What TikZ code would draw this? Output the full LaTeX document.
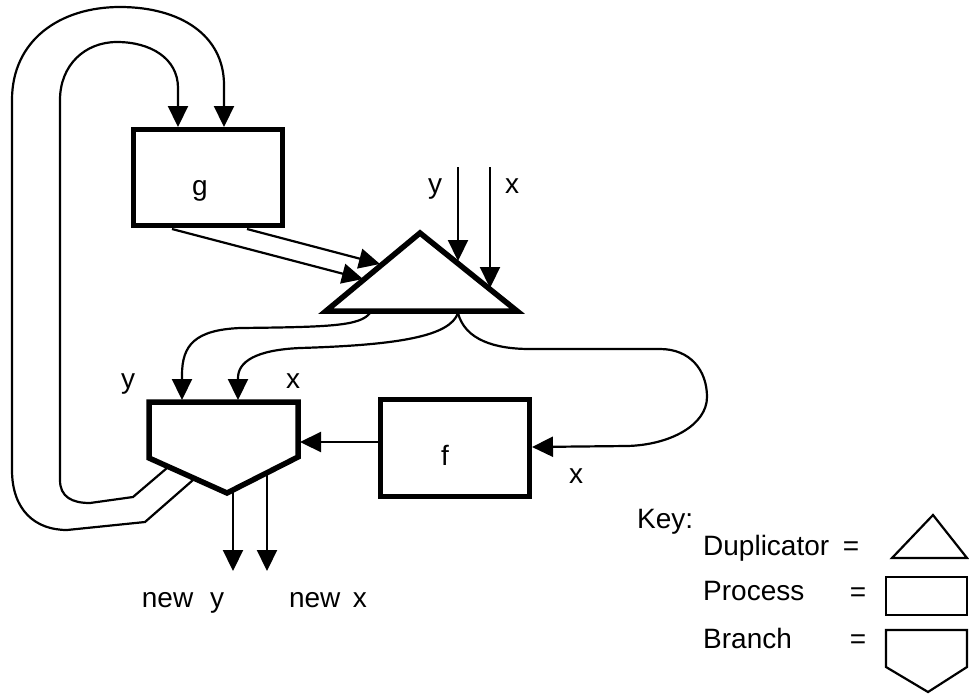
\documentclass[tikz,border=0pt]{standalone}
\usepackage{fontspec}
\setmainfont{Liberation Sans}
\usetikzlibrary{arrows.meta}
\begin{document}
\begin{tikzpicture}[x=1pt,y=-1pt,
  arr/.style={line width=2.2pt,-{Triangle[length=21pt,width=20pt]}},
  heavy/.style={line width=5.5pt,line join=miter},
  procbox/.style={draw,line width=4.8pt,minimum width=149pt,minimum height=96.5pt,inner sep=0pt},
  lbl/.style={inner sep=0pt,anchor=base,font=\fontsize{28}{33}\selectfont},
  lbll/.style={inner sep=0pt,anchor=base west,font=\fontsize{28}{33}\selectfont},
  keyline/.style={line width=2.2pt,line join=miter}]
\useasboundingbox (0,0) rectangle (969,694);

% ---------- shapes ----------
\node[procbox] (g) at (208,177.5) {};
\node[lbl] (gtxt) at (200,195) {g};
\node[procbox] (f) at (455,448) {};
\node[lbl] (ftxt) at (445,465) {f};

% duplicator
\coordinate (dl) at (326,311);
\coordinate (da) at (420,233);
\coordinate (dr) at (517,311);
\draw[heavy] (dl) -- (da) -- (dr) -- cycle;

% branch
\coordinate (b1) at (149,402);
\coordinate (b2) at (298,402);
\coordinate (b3) at (298,457);
\coordinate (b4) at (227,493);
\coordinate (b5) at (149,458);
\draw[heavy] (b1) -- (b2) -- (b3) -- (b4) -- (b5) -- cycle;

% ---------- attachment points ----------
\coordinate (gin1) at (178,127);
\coordinate (gin2) at (224,127);
\coordinate (gout1) at (172,229);
\coordinate (gout2) at (247,229);
\coordinate (din1) at (363,279);
\coordinate (din2) at (380,264);
\coordinate (dyin) at (458,261);
\coordinate (dxin) at (490,288);
\coordinate (ytop) at (458,167);
\coordinate (xtop) at (490,167);
\coordinate (dout1) at (370,313);
\coordinate (dout2) at (458,313);
\coordinate (bin1) at (182,400);
\coordinate (bin2) at (238,400);
\coordinate (bin3) at (300,442);
\coordinate (fout) at (378,442);
\coordinate (fin) at (532,447);
\coordinate (bo1) at (167,468);
\coordinate (bo2) at (193,480);
\coordinate (bo3) at (233,492);
\coordinate (bo4) at (267,474);
\coordinate (ny) at (233,571);
\coordinate (nx) at (267,571);

% ---------- connectors ----------
% feedback loops into g
\draw[arr] (bo2) -- (145,522) -- (67,530) .. controls (35,530) and (12,510) .. (12,470)
  -- (12,100) .. controls (12,40) and (60,7) .. (120,7) .. controls (180,7) and (224,35) .. (224,85) -- (gin2);
\draw[arr] (bo1) -- (133,497) -- (90,503) .. controls (72,503) and (60,497) .. (60,480)
  -- (60,100) .. controls (60,65) and (85,42) .. (117,42) .. controls (150,42) and (178,58) .. (178,88) -- (gin1);

% g to duplicator
\draw[arr] (gout1) -- (din1);
\draw[arr] (gout2) -- (din2);

% external y, x into duplicator
\draw[arr] (ytop) -- (dyin);
\draw[arr] (xtop) -- (dxin);

% duplicator to branch
\draw[arr] (dout1) .. controls (360,326) and (330,327) .. (240,328) .. controls (195,330) and (182,345) .. (182,375) -- (bin1);
\draw[arr] (dout2) .. controls (450,336) and (400,345) .. (300,348) .. controls (255,350) and (238,362) .. (238,378) -- (bin2);

% duplicator to f
\draw[arr] (dout2) .. controls (465,340) and (495,349) .. (530,349) -- (660,349)
  .. controls (690,349) and (707,370) .. (707,397) .. controls (707,425) and (670,445) .. (627,446) -- (fin);

% f to branch
\draw[arr] (fout) -- (bin3);

% branch outputs
\draw[arr] (bo3) -- (ny);
\draw[arr] (bo4) -- (nx);

% ---------- labels ----------
\node[lbl] (ly1) at (128,388) {y};
\node[lbl] (lx1) at (293,388) {x};
\node[lbl] (ly2) at (435,193) {y};
\node[lbl] (lx2) at (512,193) {x};
\node[lbl] (lx3) at (576,483) {x};
\node[lbl] (lny) at (183,607) {new\hspace{0.6em}y};
\node[lbl] (lnx) at (328,607) {new\hspace{0.45em}x};

% ---------- key ----------
\node[lbll] (key) at (637,528) {Key:};
\node[lbll] (kd) at (703,555) {Duplicator};
\node[lbl] (kde) at (851,555) {=};
\node[lbll] (kp) at (703,600) {Process};
\node[lbl] (kpe) at (858,601) {=};
\node[lbll] (kb) at (703,648) {Branch};
\node[lbl] (kbe) at (858,648) {=};

\coordinate (kt1) at (892,558);
\coordinate (kt2) at (933,515);
\coordinate (kt3) at (967,558);
\draw[keyline] (kt1) -- (kt2) -- (kt3) -- cycle;
\draw[keyline] (886,577) rectangle (967,615);
\coordinate (kb1) at (886,630);
\coordinate (kb2) at (967,630);
\coordinate (kb3) at (967,667);
\coordinate (kb4) at (928,692);
\coordinate (kb5) at (886,667);
\draw[keyline] (kb1) -- (kb2) -- (kb3) -- (kb4) -- (kb5) -- cycle;
\end{tikzpicture}
\end{document}
